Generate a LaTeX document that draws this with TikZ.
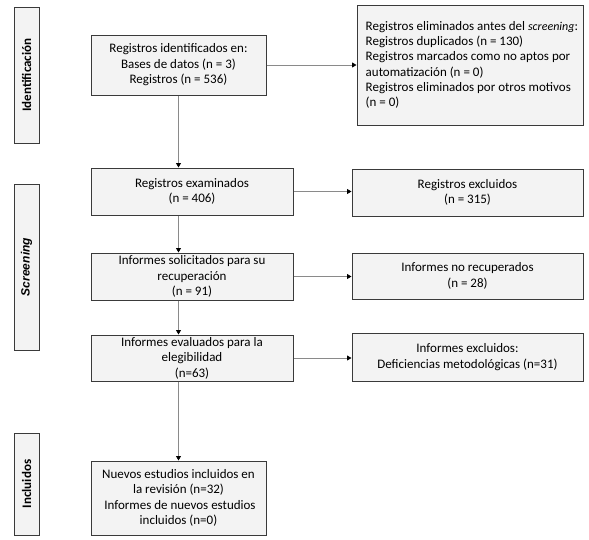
\documentclass[tikz,border=0pt]{standalone}
\usepackage{fontspec}
\setmainfont{Carlito}
\newfontfamily\arialfont{Liberation Sans}
\usetikzlibrary{arrows.meta,calc}
\definecolor{boxfill}{HTML}{F3F3F3}
\definecolor{boxline}{HTML}{3A3A3A}
\definecolor{conn}{HTML}{8A8A8A}
\tikzset{
  box/.style={draw=boxline, line width=1pt, fill=boxfill, rectangle, inner sep=2pt,
    align=center, font=\fontsize{13}{15.5}\selectfont},
  sidebox/.style={draw=boxline, line width=1pt, fill=boxfill, rectangle, inner sep=0pt},
  sidelabel/.style={rotate=90, font=\fontsize{13}{15}\selectfont\bfseries},
  conn/.style={draw=conn, line width=0.8pt, -{Triangle[length=4.5pt,width=5pt,color=black]}}
}
\begin{document}
\begin{tikzpicture}[x=1pt,y=-1pt]
\useasboundingbox (0,0) rectangle (589,539);
% side bars
\node[sidebox, minimum width=25pt, minimum height=136pt] (sid) at (26.5,75) {};
\node[sidelabel] (sidt) at (sid.center) {Identificación};
\node[sidebox, minimum width=25pt, minimum height=166pt] (sscr) at (26.5,267) {};
\node[rotate=90, font=\arialfont\fontsize{12}{14}\selectfont\bfseries\itshape] (sscrt) at (sscr.center) {Screening};
\node[sidebox, minimum width=25pt, minimum height=102pt] (sinc) at (26.5,484) {};
\node[sidelabel] (sinct) at (sinc.center) {Incluidos};
% center column
\node[box, minimum width=175pt, minimum height=60pt] (b1) at (178.5,65)
  {Registros identificados en:\\Bases de datos (n = 3)\\Registros (n = 536)};
\node[box, minimum width=202pt, minimum height=47pt] (b2) at (192,191.5)
  {Registros examinados\\(n = 406)};
\node[box, minimum width=202pt, minimum height=47pt] (b3) at (192,276.5)
  {Informes solicitados para su\\recuperación\\(n = 91)};
\node[box, minimum width=202pt, minimum height=46pt] (b4) at (192,358)
  {Informes evaluados para la\\elegibilidad\\(n=63)};
\node[box, minimum width=175pt, minimum height=74pt] (b5) at (178.5,498)
  {Nuevos estudios incluidos en\\la revisión (n=32)\\\ Informes de nuevos estudios\\incluidos (n=0)};
% right column
\node[box, minimum width=226pt, minimum height=120pt, inner xsep=0pt] (r1) at (470,65) {};
\node[anchor=west, align=left, inner sep=0pt, font=\fontsize{13}{15.3}\selectfont] (r1t) at ($(r1.west)+(9,0)$)
  {Registros eliminados antes del {\fontsize{12}{15}\selectfont\itshape screening}:\\
   Registros duplicados (n = 130)\\
   Registros marcados como no aptos por\\
   automatización (n = 0)\\
   Registros eliminados por otros motivos\\
   (n = 0)};
\node[box, minimum width=231pt, minimum height=47pt] (r2) at (467.5,192.5)
  {Registros excluidos\\(n = 315)};
\node[box, minimum width=231pt, minimum height=46pt] (r3) at (467.5,276)
  {Informes no recuperados\\(n = 28)};
\node[box, minimum width=231pt, minimum height=48pt] (r4) at (467.5,357)
  {Informes excluidos:\\Deficiencias metodológicas (n=31)};
% connectors
\draw[conn] (b1.east) -- (b1.east -| r1.west);
\draw[conn] (b1.south) -- (b1.south |- b2.north);
\draw[conn] (b2.east) -- (b2.east -| r2.west);
\draw[conn] (b1.south |- b2.south) -- (b1.south |- b3.north);
\draw[conn] (b3.east) -- (b3.east -| r3.west);
\draw[conn] (b1.south |- b3.south) -- (b1.south |- b4.north);
\draw[conn] (b4.east) -- (b4.east -| r4.west);
\draw[conn] (b1.south |- b4.south) -- (b5.north);
\end{tikzpicture}
\end{document}
